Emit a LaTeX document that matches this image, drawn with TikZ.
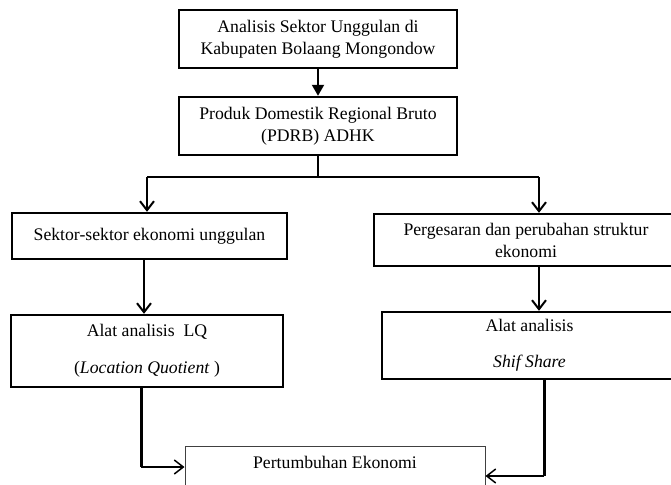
\documentclass[tikz,border=0pt]{standalone}
\usepackage{fontspec}
\setmainfont{Liberation Serif}
\usetikzlibrary{arrows.meta}
\begin{document}
\begin{tikzpicture}[x=1pt,y=-1pt,
  box/.style={draw,line width=2.4pt,inner sep=0pt,align=center,
    font=\fontsize{17.7}{22}\selectfont},
  thinbox/.style={draw=black!75,line width=1pt,inner sep=0pt},
  txt/.style={inner sep=0pt,align=center,font=\fontsize{17.7}{22}\selectfont},
  conn/.style={line width=2pt},
  vthick/.style={line width=3pt},
  hthin/.style={line width=1.3pt},
  vee/.style={-{Straight Barb[length=9pt,width=14pt,line width=2pt]}},
  veethin/.style={-{Straight Barb[length=9pt,width=14pt,line width=1.5pt]}},
  filledtip/.style={-{Stealth[length=11pt,width=12pt,inset=0pt]}}]
\path[use as bounding box] (0,0) rectangle (671,484);
\clip (0,0) rectangle (671,484);

\node[box,minimum width=278pt,minimum height=58pt] (b1) at (318,39)
  {Analisis Sektor Unggulan di\\Kabupaten Bolaang Mongondow};
\node[box,minimum width=278pt,minimum height=58pt] (b2) at (318,126)
  {Produk Domestik Regional Bruto\\(PDRB) ADHK};
\node[box,minimum width=275pt,minimum height=46pt] (sek) at (149.5,236)
  {Sektor-sektor ekonomi unggulan};
\node[box,minimum width=304pt,minimum height=52pt] (per) at (526,240)
  {Pergesaran dan perubahan struktur\\ekonomi};
\node[box,minimum width=272pt,minimum height=72pt] (lq) at (147,351)
  {Alat analisis\ \ LQ\\[15pt](\textit{Location Quotient} )};
\node[box,minimum width=295pt,minimum height=67pt] (shif) at (529.5,345.5)
  {Alat analisis\\[14pt]\textit{Shif Share}};
\node[thinbox,minimum width=300pt,minimum height=60pt] (bot) at (335,476) {};
\node[txt] (bottxt) at (335,462) {Pertumbuhan Ekonomi};

% connectors
\draw[conn,filledtip] (b1) -- (b2);
\coordinate (split) at (318,177);
\coordinate (sl) at (147,177);
\coordinate (sr) at (539,177);
\draw[conn] (b2.south) -- (split);
\draw[conn] (sl) -- (sr);
\draw[conn,vee] (sl) -- (sl |- sek.north);
\draw[conn,vee] (sr) -- (sr |- per.north);
\coordinate (lx) at (144,300);
\draw[conn,vee] (sek.south -| lx) -- (lq.north -| lx);
\draw[conn,vee] (per.south -| sr) -- (shif.north -| sr);
\coordinate (lqc) at (141,467);
\draw[vthick] (lq.south -| lqc) -- (lqc);
\draw[hthin,veethin] (lqc) -- (bot.west |- lqc);
\coordinate (shc) at (544,476);
\draw[vthick] (shif.south -| shc) -- (shc);
\draw[hthin,veethin] (shc) -- (bot.east |- shc);
\end{tikzpicture}
\end{document}
